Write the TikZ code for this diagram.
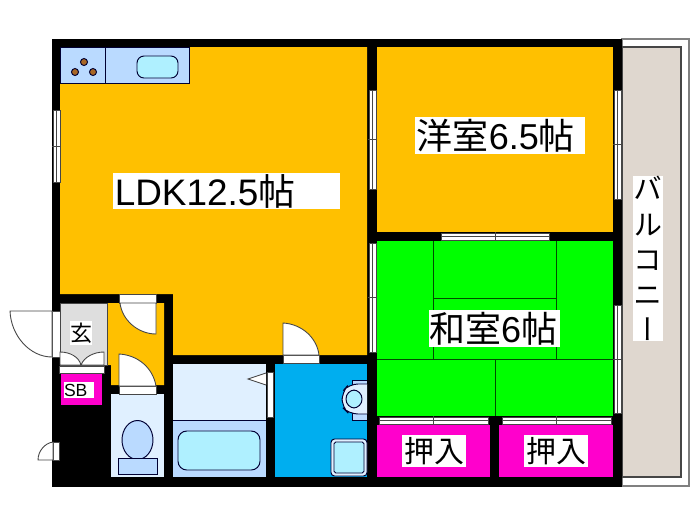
\documentclass[tikz,border=0pt]{standalone}
\usepackage{fontspec}
\setmainfont{Liberation Sans}
\newfontfamily\cjk{Noto Sans CJK JP}
\newfontfamily\cjkv[RawFeature=+vert]{Noto Sans CJK JP}
\definecolor{orangeroom}{RGB}{255,192,0}
\definecolor{greenroom}{RGB}{0,255,0}
\definecolor{closet}{RGB}{255,0,204}
\definecolor{washroom}{RGB}{0,174,239}
\definecolor{balcony}{RGB}{223,215,207}
\definecolor{paleblue}{RGB}{224,240,255}
\definecolor{midblue}{RGB}{186,218,255}
\definecolor{basin}{RGB}{175,240,255}
\definecolor{linegray}{RGB}{70,70,70}
\tikzset{
	fixture/.style={draw=black!80!blue,line width=.55pt},
	strip/.style={draw=linegray,fill=white,line width=.5pt},
	tatami/.style={draw=black!70!green,line width=.5pt},
	roomlabel/.style={fill=white,inner sep=0pt,align=left},
}

\begin{document}
\begin{tikzpicture}[x=.02cm,y=-.02cm]
	\useasboundingbox (0,0) rectangle (700,525);
	
	% balcony and walls
	\draw[draw=gray,fill=white,line width=.7pt] (622,39) rectangle (689,486);
	\draw[draw=linegray,fill=balcony,line width=.6pt] (622,47) rectangle (681,477);
	\fill[black] (52,39) rectangle (622,487);
	
	% rooms
	\fill[orangeroom] (60,47)--(367,47)--(367,355)--(173,355)--(173,294)--(60,294)--cycle;
	\fill[orangeroom] (377,47) rectangle (613,232);
	\fill[orangeroom] (107,303)--(164,303)--(164,385)--(111,385)--(111,365)--(107,365)--cycle;
	\fill[greenroom] (377,241) rectangle (613,416);
	\fill[closet] (377,425) rectangle (490,477);
	\fill[closet] (499,425) rectangle (613,477);
	\fill[closet] (61,374) rectangle (102,405);
	\fill[washroom] (275,364) rectangle (367,477);
	\draw[draw=linegray,fill=black!13,line width=.5pt] (60,303) rectangle (107,365);
	\fill[paleblue] (111,394) rectangle (164,477);
	\fill[paleblue] (173,364) rectangle (266,420);
	\fill[midblue] (173,420) rectangle (266,477);
	\draw[fixture] (173,420)--(266,420);
	
	% tatami
	\draw[tatami] (433,241)--(433,359) (556,241)--(556,359) (433,298)--(556,298);
	\draw[tatami] (377,359)--(613,359) (495,359)--(495,416);
	
	% windows and sliding doors
	\foreach \xa/\xb/\ya/\yb in {53/60/110/182,369/376/90/189,614/621/90/199,369/376/243/352,614/621/305/413}{
		\draw[strip] (\xa,\ya) rectangle (\xb,\yb);
		\draw[linegray,line width=.4pt] ({(\xa+\xb)/2},\ya)--({(\xa+\xb)/2},\yb);
		\draw[linegray,line width=.4pt] (\xa-1,{(\ya+\yb)/2})--(\xb+1,{(\ya+\yb)/2});
	}
	\foreach \xa/\xb/\ya/\yb in {441/549/233/240,379/488/417/424,502/611/417/424}{
		\draw[strip] (\xa,\ya) rectangle (\xb,\yb);
		\draw[linegray,line width=.4pt] (\xa,{(\ya+\yb)/2})--(\xb,{(\ya+\yb)/2});
		\draw[linegray,line width=.4pt] ({(\xa+\xb)/2},\ya-1)--({(\xa+\xb)/2},\yb+1);
	}
	
	% doors
	\draw[strip] (52,311) rectangle (60,357);
	\draw[strip] (52,311)--(10,311) .. controls (11,336) and (30,357) .. (52,357)--cycle;
	\draw[strip] (59,366) rectangle (104,373);
	\draw[strip] (60,365)--(60,352) .. controls (70,352) and (79,357) .. (81,365)--cycle;
	\draw[strip] (104,365)--(104,352) .. controls (94,352) and (84,357) .. (81,365)--cycle;
	\draw[strip] (119,294) rectangle (156,303);
	\draw[strip] (156,303)--(120,303) .. controls (122,320) and (138,334) .. (156,334)--cycle;
	\draw[strip] (119,386) rectangle (156,394);
	\draw[strip] (119,386)--(119,354) .. controls (138,355) and (153,368) .. (156,386)--cycle;
	\draw[strip] (283,355) rectangle (319,363);
	\draw[strip] (283,355)--(283,323) .. controls (302,324) and (317,338) .. (319,355)--cycle;
	\draw[strip] (53,442) rectangle (59,460);
	\draw[strip] (53,442) .. controls (45,443) and (38,451) .. (38,460)--(53,460)--cycle;
	\draw[strip] (267,372) rectangle (273,417);
	\draw[strip] (266,373)--(248,379)--(266,385);
	
	% kitchen
	\draw[fixture,fill=midblue] (60,47) rectangle (189,83);
	\draw[fixture] (105,47)--(105,83);
	\draw[fixture,fill=basin,rounded corners=4pt] (137,56) rectangle (178,78);
	\foreach \cx/\cy in {84/62,75/72,93/72}{
		\draw[fixture,fill=brown!70!orange!80!black] (\cx,\cy) circle[radius=3.5];
	}
	
	% toilet, bath, wash basin, washing machine
	\draw[fixture,fill=midblue] (137.5,440) ellipse[x radius=15.5,y radius=19.5];
	\draw[fixture,fill=midblue] (118,458) rectangle (157,474);
	\draw[fixture,fill=basin,rounded corners=5pt] (178,431) rectangle (260,470);
	\draw[fixture,fill=midblue] (367,380)--(352,380)--(352,420)--(367,420);
	\draw[fixture,fill=paleblue,rounded corners=5pt] (367,384)--(349,384)--(342,392)--(342,407)--(349,414)--(367,414);
	\draw[fixture,fill=basin,rounded corners=5pt] (346,390) rectangle (362,408);
	\draw[fixture,fill=paleblue,rounded corners=2pt] (331,439) rectangle (367,476);
	\draw[fixture,fill=basin,rounded corners=1pt] (334,442) rectangle (364,473);
	
	% labels
	\node[roomlabel,text width=4.54cm,minimum height=.72cm] (ldk) at (226.5,191) {\fontsize{21}{21}\selectfont\kern1pt LDK12.5{\cjk 帖}};
	\node[roomlabel,text width=3.4cm,minimum height=.74cm] (yoshitsu) at (500,135.5) {\fontsize{20.5}{21}\selectfont\kern1pt{\cjk 洋室}6.5{\cjk 帖}};
	\node[roomlabel,text width=2.62cm,minimum height=.74cm] (washitsu) at (494.5,328.5) {\fontsize{20.5}{21}\selectfont{\cjk 和室}6{\cjk 帖}};
	\node[roomlabel,minimum width=1.28cm,minimum height=.64cm,align=center] (oshiire1) at (434,451) {\fontsize{17}{17}\selectfont\cjk 押入};
	\node[roomlabel,minimum width=1.28cm,minimum height=.64cm,align=center] (oshiire2) at (556,451) {\fontsize{17}{17}\selectfont\cjk 押入};
	\node[roomlabel,minimum width=.44cm,minimum height=.48cm,align=center] (genkan) at (81,333) {\fontsize{12.5}{13}\selectfont\cjk 玄};
	\node[roomlabel,text width=.6cm,minimum height=.32cm] (sb) at (79,390) {\fontsize{10}{10}\selectfont SB};
	\node[roomlabel,minimum width=.6cm,minimum height=3.06cm,align=center,font=\fontsize{16.5}{16.5}\selectfont\cjkv] (veranda) at (648,258.5) {バ\\[3.5pt] ル\\[3.5pt] コ\\[3.5pt] ニ\\[3.5pt] ー};
\end{tikzpicture}
\end{document}
